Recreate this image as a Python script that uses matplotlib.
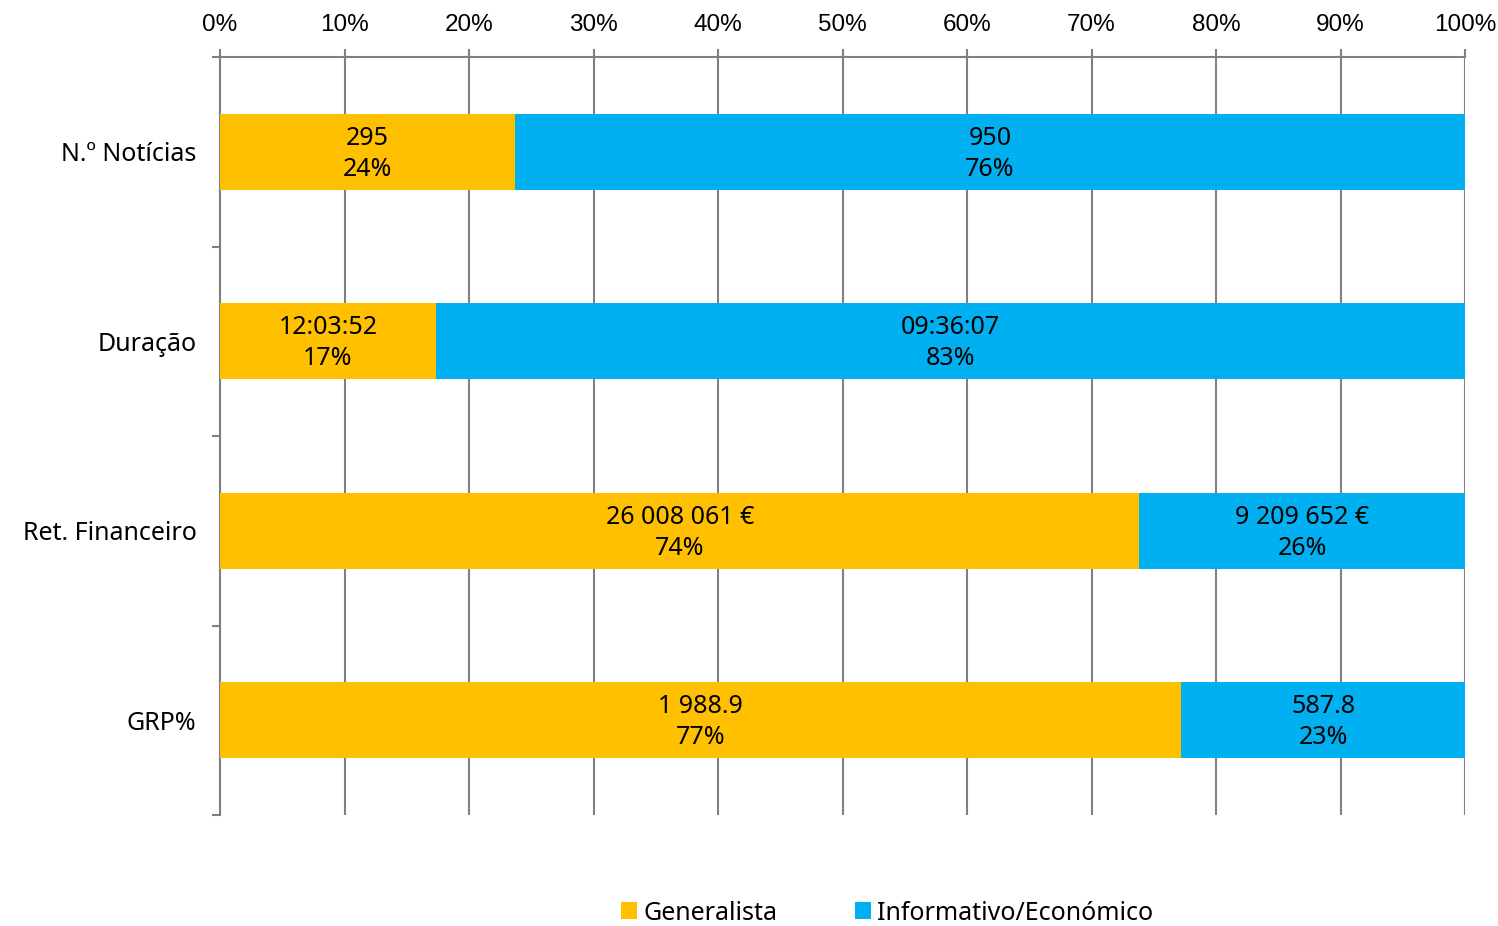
import matplotlib
matplotlib.use("Agg")
import matplotlib.pyplot as plt
from matplotlib.patches import Patch

categories = ["N.º Notícias", "Duração", "Ret. Financeiro", "GRP%"]
series_names = ["Generalista", "Informativo/Económico"]
gen_share = [23.7, 17.35, 73.85, 77.2]
inf_share = [76.3, 82.65, 26.15, 22.8]
gen_values = ["295", "12:03:52", "26 008 061 €", "1 988.9"]
inf_values = ["950", "09:36:07", "9 209 652 €", "587.8"]
gen_pct = ["24%", "17%", "74%", "77%"]
inf_pct = ["76%", "83%", "26%", "23%"]
xticks = [0, 10, 20, 30, 40, 50, 60, 70, 80, 90, 100]
xtick_labels = [f"{t}%" for t in xticks]

c_gen = "#FFC000"
c_inf = "#00B0F0"
gray = "#808080"
label_font = ["Noto Sans", "DejaVu Sans"]

fig = plt.figure(figsize=(14.98, 9.26), dpi=100)
ax = fig.add_axes([220/1498, 1-815/926, (1465-220)/1498, (815-57)/926])

y = list(range(len(categories)))
ax.barh(y, gen_share, height=0.4, color=c_gen, zorder=3)
ax.barh(y, inf_share, left=gen_share, height=0.4, color=c_inf, zorder=3)

for i in y:
    ax.text(gen_share[i]/2, i + 0.01, f"{gen_values[i]}\n{gen_pct[i]}", ha="center", va="center",
            fontsize=18, family=label_font, linespacing=1.32, zorder=4)
    ax.text(gen_share[i] + inf_share[i]/2, i + 0.01, f"{inf_values[i]}\n{inf_pct[i]}", ha="center",
            va="center", fontsize=18, family=label_font, linespacing=1.32, zorder=4)

ax.set_xlim(0, 100)
ax.set_ylim(3.5, -0.5)
ax.xaxis.tick_top()
ax.set_xticks(xticks)
ax.set_xticklabels(xtick_labels, fontsize=17.5, family=["Liberation Sans", "DejaVu Sans"])
ax.tick_params(axis="x", which="major", direction="out", length=6, width=1.5, color=gray, pad=9)
ax.grid(axis="x", color=gray, linewidth=1.5, zorder=1)

ax.set_yticks(y)
ax.set_yticklabels(categories, fontsize=18, family=label_font)
ax.set_yticks([-0.5, 0.5, 1.5, 2.5, 3.5], minor=True)
ax.tick_params(axis="y", which="major", length=0, pad=17)
ax.tick_params(axis="y", which="minor", direction="out", length=6, width=1.5, color=gray)

for s in ["right", "bottom"]:
    ax.spines[s].set_visible(False)
for s in ["left", "top"]:
    ax.spines[s].set_color(gray)
    ax.spines[s].set_linewidth(1.5)
ax.set_axisbelow(True)

handles = [Patch(facecolor=c_gen, edgecolor="none"), Patch(facecolor=c_inf, edgecolor="none")]
fig.legend(handles, series_names, loc="center", bbox_to_anchor=(887/1498, 1-913/926), ncol=2,
           frameon=False, prop={"family": label_font, "size": 18}, handlelength=0.65,
           handleheight=0.65, handletextpad=0.25, columnspacing=3.1, borderpad=0.1)

fig.savefig("out.png", dpi=100)
